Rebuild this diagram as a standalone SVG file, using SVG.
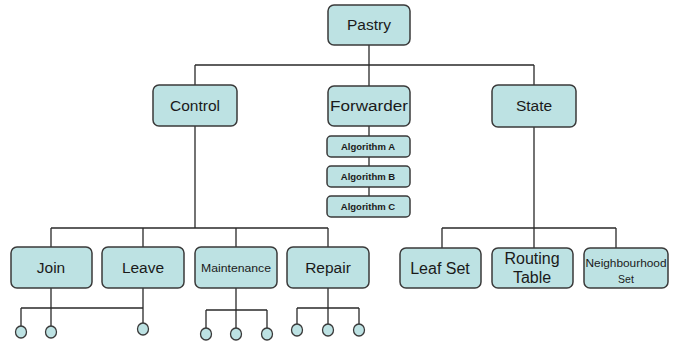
<svg xmlns="http://www.w3.org/2000/svg" width="673" height="344" viewBox="0 0 673 344">
<style>
.box{fill:#bde2e3;stroke:#3a3a3a;stroke-width:1.5}
.t{font-family:"Liberation Sans",Arial,sans-serif;font-size:15.5px;fill:#1a1a1a;text-anchor:middle}
.b{font-family:"Liberation Sans",Arial,sans-serif;font-size:16px;fill:#1a1a1a;text-anchor:middle}
.s{font-family:"Liberation Sans",Arial,sans-serif;font-size:9.5px;font-weight:bold;fill:#1a1a1a;text-anchor:middle}
.m{font-family:"Liberation Sans",Arial,sans-serif;font-size:10.5px;fill:#1a1a1a;text-anchor:middle}
.c{fill:none;stroke:#2a2a2a;stroke-width:1.3}
.dot{fill:#bde2e3;stroke:#3a3a3a;stroke-width:1.3}
</style>
<rect width="673" height="344" fill="#ffffff"/>
<g id="connectors" class="c">
<path d="M369 45V86M195 65H534M195 65V85M534 65V85"/>
<path d="M369 126V136M369 157V166M369 187V196"/>
<path d="M195 126V228M51 228H328M51 228V247M143 228V247M236 228V247M328 228V247"/>
<path d="M534 127V228M442 228H616M442 228V248M534 228V248M616 228V248"/>
<path d="M51 288V326M143 288V323M21 308H143M21 308V326"/>
<path d="M236 288V328M206 310H267M206 310V328M267 310V328"/>
<path d="M328 288V324M297 308H359M297 308V324M359 308V324"/>
</g>
<g id="pastry"><rect class="box" x="328" y="5" width="82" height="40" rx="6"/><text class="t" x="369" y="30">Pastry</text></g>
<g id="control"><rect class="box" x="153" y="85" width="84" height="41" rx="6"/><text class="t" x="195" y="111">Control</text></g>
<g id="forwarder"><rect class="box" x="328" y="86" width="82" height="40" rx="6"/><text class="t" x="369" y="111" textLength="78" lengthAdjust="spacingAndGlyphs">Forwarder</text></g>
<g id="state"><rect class="box" x="492" y="85" width="84" height="42" rx="6"/><text class="t" x="534" y="111">State</text></g>
<g id="algA"><rect class="box" x="327" y="136" width="83" height="21" rx="4"/><text class="s" x="368" y="150">Algorithm A</text></g>
<g id="algB"><rect class="box" x="327" y="166" width="83" height="21" rx="4"/><text class="s" x="368" y="180">Algorithm B</text></g>
<g id="algC"><rect class="box" x="327" y="196" width="83" height="21" rx="4"/><text class="s" x="368" y="210">Algorithm C</text></g>
<g id="join"><rect class="box" x="11" y="247" width="81" height="41" rx="6"/><text class="t" x="51" y="273">Join</text></g>
<g id="leave"><rect class="box" x="102" y="247" width="82" height="41" rx="6"/><text class="t" x="143" y="273">Leave</text></g>
<g id="maintenance"><rect class="box" x="195" y="247" width="82" height="41" rx="6"/><text class="m" x="236" y="272" textLength="70" lengthAdjust="spacingAndGlyphs">Maintenance</text></g>
<g id="repair"><rect class="box" x="287" y="247" width="82" height="41" rx="6"/><text class="t" x="328" y="273">Repair</text></g>
<g id="leafset"><rect class="box" x="400" y="248" width="81" height="40" rx="6"/><text class="b" x="440" y="274">Leaf Set</text></g>
<g id="routing"><rect class="box" x="492" y="248" width="81" height="40" rx="6"/><text class="b" x="532" y="264">Routing</text><text class="b" x="532" y="283">Table</text></g>
<g id="neighbourhood"><rect class="box" x="584" y="248" width="84" height="40" rx="6"/><text class="m" x="626" y="267" textLength="81" lengthAdjust="spacingAndGlyphs">Neighbourhood</text><text class="m" x="626" y="283">Set</text></g>
<g id="leaves">
<ellipse class="dot" cx="21" cy="332" rx="5.5" ry="6"/>
<ellipse class="dot" cx="51" cy="332" rx="5.5" ry="6"/>
<ellipse class="dot" cx="143" cy="329" rx="5.5" ry="6"/>
<ellipse class="dot" cx="206" cy="334" rx="5.5" ry="6"/>
<ellipse class="dot" cx="236" cy="334" rx="5.5" ry="6"/>
<ellipse class="dot" cx="267" cy="334" rx="5.5" ry="6"/>
<ellipse class="dot" cx="297" cy="330" rx="5.5" ry="6"/>
<ellipse class="dot" cx="328" cy="330" rx="5.5" ry="6"/>
<ellipse class="dot" cx="359" cy="330" rx="5.5" ry="6"/>
</g>
</svg>
